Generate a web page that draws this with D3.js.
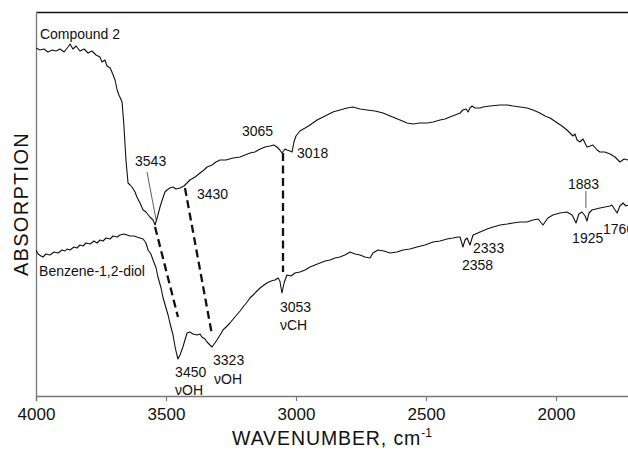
<!DOCTYPE html>
<html>
<head>
<meta charset="utf-8">
<script src="https://cdn.jsdelivr.net/npm/d3@7"></script>
<style>
  html, body { margin: 0; padding: 0; background: #fff; }
  svg text { font-family: "Liberation Sans", Arial, sans-serif; fill: #111; }
</style>
</head>
<body>
<svg id="chart" width="628" height="453"></svg>
<script>
// FTIR spectra: wavenumber (cm-1) and absorption (arbitrary units)
const compoundWavenumber = [4000,3985,3969,3954,3938,3923,3908,3892,3877,3869,3858,3846,3831,3815,3800,3785,3769,3754,3746,3735,3727,3715,3708,3696,3688,3681,3669,3662,3654,3646,3638,3631,3619,3612,3600,3588,3577,3562,3550,3542,3531,3523,3512,3504,3496,3485,3473,3462,3446,3431,3419,3408,3388,3369,3354,3342,3323,3308,3292,3269,3242,3215,3196,3177,3158,3138,3119,3100,3085,3073,3062,3054,3042,3035,3023,3015,3008,3000,2985,2965,2946,2919,2888,2858,2831,2804,2781,2754,2727,2696,2665,2638,2600,2573,2550,2523,2496,2473,2446,2427,2408,2388,2369,2358,2346,2338,2331,2323,2312,2292,2281,2254,2215,2188,2165,2138,2112,2088,2062,2042,2023,2000,1977,1958,1946,1935,1927,1919,1908,1896,1881,1869,1858,1842,1831,1812,1792,1773,1754,1738,1723,1710];
const compoundAbsorption = [3.53,3.51,3.52,3.49,3.51,3.50,3.52,3.49,3.54,3.57,3.52,3.55,3.50,3.52,3.48,3.50,3.46,3.44,3.39,3.41,3.35,3.33,3.29,3.21,3.11,3.06,2.99,2.76,2.41,2.18,2.16,2.14,2.09,2.04,1.98,1.91,1.89,1.84,1.81,1.76,1.86,1.94,2.03,2.09,2.11,2.13,2.14,2.12,2.13,2.15,2.18,2.21,2.24,2.28,2.31,2.34,2.36,2.39,2.41,2.41,2.43,2.44,2.46,2.48,2.49,2.52,2.54,2.55,2.56,2.54,2.51,2.48,2.52,2.51,2.50,2.49,2.59,2.65,2.70,2.73,2.76,2.81,2.85,2.89,2.91,2.93,2.94,2.92,2.91,2.90,2.88,2.85,2.81,2.78,2.77,2.78,2.78,2.79,2.81,2.82,2.84,2.86,2.88,2.91,2.92,2.89,2.93,2.95,2.93,2.93,2.94,2.95,2.96,2.96,2.95,2.94,2.93,2.91,2.88,2.85,2.83,2.79,2.75,2.71,2.68,2.65,2.67,2.61,2.59,2.62,2.54,2.55,2.56,2.51,2.49,2.49,2.47,2.44,2.39,2.42,2.41,2.40];

const benzeneWavenumber = [4000,3992,3981,3973,3962,3946,3931,3915,3900,3888,3881,3869,3854,3842,3831,3819,3808,3792,3777,3765,3754,3742,3731,3715,3704,3688,3677,3662,3650,3638,3623,3612,3600,3588,3577,3569,3558,3550,3538,3531,3519,3512,3500,3492,3485,3473,3465,3458,3454,3446,3435,3427,3419,3408,3396,3381,3369,3362,3350,3342,3331,3323,3312,3304,3292,3281,3265,3254,3235,3215,3204,3188,3177,3165,3150,3138,3123,3112,3096,3081,3069,3062,3054,3046,3035,3019,3004,2985,2965,2946,2927,2908,2888,2869,2850,2831,2812,2792,2773,2754,2735,2715,2704,2685,2662,2638,2612,2588,2562,2535,2504,2473,2446,2419,2396,2377,2369,2358,2350,2342,2331,2319,2292,2265,2242,2215,2188,2165,2138,2112,2088,2069,2050,2031,2012,1985,1958,1938,1923,1912,1900,1888,1881,1873,1862,1846,1831,1812,1792,1785,1773,1765,1754,1742,1731,1723,1710];
const benzeneAbsorption = [1.51,1.47,1.45,1.44,1.47,1.46,1.49,1.48,1.51,1.50,1.52,1.51,1.54,1.53,1.56,1.55,1.58,1.57,1.60,1.58,1.61,1.60,1.63,1.62,1.65,1.64,1.66,1.67,1.66,1.65,1.65,1.64,1.63,1.62,1.58,1.51,1.47,1.41,1.33,1.24,1.13,1.04,0.93,0.86,0.78,0.66,0.54,0.46,0.42,0.46,0.54,0.61,0.68,0.69,0.67,0.66,0.67,0.64,0.62,0.59,0.56,0.54,0.58,0.61,0.66,0.71,0.75,0.78,0.84,0.90,0.94,0.99,1.03,1.06,1.10,1.13,1.16,1.18,1.20,1.21,1.23,1.20,1.08,1.18,1.26,1.25,1.28,1.29,1.31,1.34,1.36,1.38,1.40,1.41,1.43,1.44,1.46,1.49,1.47,1.46,1.44,1.43,1.48,1.51,1.50,1.48,1.49,1.51,1.52,1.54,1.56,1.59,1.60,1.62,1.63,1.64,1.64,1.54,1.61,1.63,1.56,1.66,1.69,1.72,1.74,1.76,1.77,1.78,1.79,1.79,1.81,1.82,1.76,1.83,1.86,1.88,1.89,1.86,1.78,1.87,1.89,1.85,1.80,1.88,1.91,1.92,1.93,1.94,1.95,1.96,1.91,1.88,1.95,1.98,1.95,1.96,1.97];

const xTicks = [4000, 3500, 3000, 2500, 2000];

// Peak assignments: text, wavenumber and absorption where the label sits
const peakLabels = ["Compound 2","3543","3430","3065","3018","Benzene-1,2-diol","3053","νCH","3450","νOH","3323","νOH","2333","2358","1883","1925","1760"];
const peakLabelWavenumber = [3985,3619,3381,3208,2996,3988,3062,3062,3465,3465,3319,3315,2319,2362,1954,1938,1819];
const peakLabelAbsorption = [3.62,2.35,2.02,2.65,2.43,1.25,0.89,0.71,0.24,0.06,0.36,0.17,1.48,1.31,2.12,1.58,1.67];

// Dashed correlation lines between the two spectra (start/end wavenumber and absorption)
const linkFromWavenumber = [3542, 3427, 3050];
const linkFromAbsorption = [1.74, 2.13, 2.48];
const linkToWavenumber   = [3454, 3323, 3050];
const linkToAbsorption   = [0.84, 0.66, 1.29];

// Thin leader lines for crowded labels
const leaderFromWavenumber = [3573, 1885];
const leaderFromAbsorption = [2.29, 2.10];
const leaderToWavenumber   = [3538, 1885];
const leaderToAbsorption   = [1.81, 1.93];

const svg = d3.select("#chart");
const plotLeft = 36, plotTop = 12, plotBottom = 396, plotRight = 634;

const x = d3.scaleLinear().domain([4000, 1700]).range([plotLeft, plotRight]);
const y = d3.scaleLinear().domain([0.05, 3.89]).range([plotBottom, plotTop]);

svg.append("clipPath").attr("id", "plotClip")
  .append("rect").attr("x", plotLeft).attr("y", plotTop)
  .attr("width", plotRight - plotLeft).attr("height", plotBottom - plotTop);

// frame: dark top edge, grey left axis
svg.append("line").attr("x1", plotLeft).attr("x2", plotRight).attr("y1", plotTop + 0.5).attr("y2", plotTop + 0.5)
  .attr("stroke", "#111").attr("stroke-width", 1.3);
svg.append("line").attr("x1", plotLeft + 0.5).attr("x2", plotLeft + 0.5).attr("y1", plotTop).attr("y2", plotBottom)
  .attr("stroke", "#777").attr("stroke-width", 1.3);

// bottom axis
const xAxis = d3.axisBottom(x).tickValues(xTicks).tickSize(5).tickPadding(7).tickFormat(d3.format("d"));
const gx = svg.append("g").attr("transform", `translate(0,${plotBottom})`).call(xAxis);
gx.select(".domain").attr("stroke", "#777").attr("stroke-width", 1.3);
gx.selectAll(".tick line").attr("stroke", "#777").attr("stroke-width", 1.2);
gx.selectAll(".tick text").style("font-size", "17px")
  .style("font-family", "'Liberation Sans', Arial, sans-serif").attr("fill", "#111");

// axis titles
const xt = svg.append("text").attr("x", 332).attr("y", 445).attr("text-anchor", "middle")
  .style("font-size", "19.5px").style("letter-spacing", "0.9px");
xt.append("tspan").text("WAVENUMBER, cm");
xt.append("tspan").attr("dy", -8).style("font-size", "12px").style("letter-spacing", "0px").text("-1");

svg.append("text").attr("transform", "translate(28,204) rotate(-90)").attr("text-anchor", "middle")
  .style("font-size", "20px").style("letter-spacing", "1.3px").text("ABSORPTION");

const plot = svg.append("g").attr("clip-path", "url(#plotClip)");
const line = d3.line().x(d => x(d[0])).y(d => y(d[1]));

const compound = d3.zip(compoundWavenumber, compoundAbsorption);
const benzene = d3.zip(benzeneWavenumber, benzeneAbsorption);

[compound, benzene].forEach(series => {
  plot.append("path").datum(series).attr("d", line)
    .attr("fill", "none").attr("stroke", "#111").attr("stroke-width", 1.1).attr("stroke-linejoin", "round");
});

// dashed links
linkFromWavenumber.forEach((w, i) => {
  svg.append("line")
    .attr("x1", x(w)).attr("y1", y(linkFromAbsorption[i]))
    .attr("x2", x(linkToWavenumber[i])).attr("y2", y(linkToAbsorption[i]))
    .attr("stroke", "#111").attr("stroke-width", 2.3).attr("stroke-dasharray", "8,4.5");
});

// leaders
leaderFromWavenumber.forEach((w, i) => {
  svg.append("line")
    .attr("x1", x(w)).attr("y1", y(leaderFromAbsorption[i]))
    .attr("x2", x(leaderToWavenumber[i])).attr("y2", y(leaderToAbsorption[i]))
    .attr("stroke", "#333").attr("stroke-width", 0.8);
});

// labels
const labelLayer = svg.append("g");
peakLabels.forEach((t, i) => {
  labelLayer.append("text")
    .attr("x", x(peakLabelWavenumber[i])).attr("y", y(peakLabelAbsorption[i]))
    .style("font-size", "14px")
    .text(t);
});
</script>
</body>
</html>
